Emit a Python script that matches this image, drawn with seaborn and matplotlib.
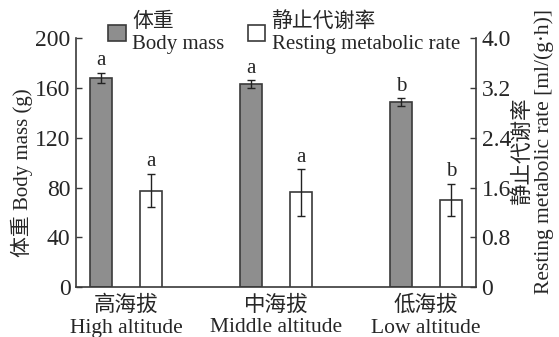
import pandas as pd
import matplotlib
matplotlib.use('Agg')
import matplotlib.pyplot as plt
import seaborn as sns
from matplotlib.patches import Patch

sns.set_style('ticks')
plt.rcParams['font.family'] = ['Liberation Serif', 'Noto Sans CJK SC']
plt.rcParams['font.size'] = 15

groups = ['高海拔\nHigh altitude', '中海拔\nMiddle altitude', '低海拔\nLow altitude']
body_mass = [168, 163, 148.5]
body_mass_err = [4, 3, 3]
body_mass_letters = ['a', 'a', 'b']
rmr = [1.55, 1.52, 1.40]
rmr_err = [0.27, 0.37, 0.26]
rmr_letters = ['a', 'a', 'b']
series = ['体重\nBody mass', '静止代谢率\nResting metabolic rate']

df_bm = pd.DataFrame({'group': groups, 'value': body_mass, 'series': series[0]})
df_rmr = pd.DataFrame({'group': groups, 'value': rmr, 'series': series[1]})

edge = '#3a3a3a'
pal = {series[0]: '#8e8e8e', series[1]: 'white'}
fs = 15

fig, ax = plt.subplots(figsize=(5.59, 3.37), dpi=100)
fig.subplots_adjust(left=0.136, right=0.8515, bottom=0.148, top=0.887)
ax2 = ax.twinx()

sns.barplot(data=df_bm, x='group', y='value', hue='series', hue_order=series, order=groups,
            palette=pal, width=0.667, gap=0.56, dodge=True, edgecolor=edge, linewidth=1.2,
            errorbar=None, legend=False, ax=ax)
sns.barplot(data=df_rmr, x='group', y='value', hue='series', hue_order=series, order=groups,
            palette=pal, width=0.667, gap=0.56, dodge=True, edgecolor=edge, linewidth=1.2,
            errorbar=None, legend=False, ax=ax2)

for a, vals, errs, letters, top in [(ax, body_mass, body_mass_err, body_mass_letters, 200),
                                    (ax2, rmr, rmr_err, rmr_letters, 4.0)]:
    xs = sorted(p.get_x() + p.get_width() / 2 for p in a.patches if p.get_height() > 0)
    a.errorbar(xs, vals, yerr=errs, fmt='none', ecolor='#222222', elinewidth=1, capsize=3, capthick=1)
    for x, v, e, t in zip(xs, vals, errs, letters):
        a.text(x, v + e + 0.01 * top, t, ha='center', va='bottom', fontsize=fs)

ax.set_xlim(-0.333, 2.333)
ax.set_ylim(0, 200)
ax.set_yticks([0, 40, 80, 120, 160, 200])
ax2.set_ylim(0, 4.0)
ax2.set_yticks([0, 0.8, 1.6, 2.4, 3.2, 4.0])
ax2.set_yticklabels(['0', '0.8', '1.6', '2.4', '3.2', '4.0'])

ax.set_xlabel('')
ax.set_ylabel('体重 Body mass (g)', fontsize=fs)
ax.yaxis.set_label_coords(-0.108, 0.46)
ax2.set_ylabel('静止代谢率\nResting metabolic rate [ml/(g·h)]', fontsize=15.5, linespacing=1.1)
ax2.yaxis.set_label_coords(1.092, 0.545)

for a in (ax, ax2):
    a.spines['top'].set_visible(False)
    for s in a.spines.values():
        s.set_color(edge)
        s.set_linewidth(1.2)
    a.tick_params(axis='y', direction='in', length=4, width=1, color=edge, labelsize=17, pad=4)
ax.tick_params(axis='x', length=0, labelsize=15.5, pad=6)
ax2.spines['left'].set_visible(False)
ax2.spines['bottom'].set_visible(False)
ax.spines['right'].set_visible(False)

handles = [Patch(facecolor=pal[s], edgecolor=edge, linewidth=1.2) for s in series]
fig.legend(handles, series, loc='upper left', bbox_to_anchor=(0.1717, 1.0), ncol=2,
           frameon=False, fontsize=fs, handlelength=0.85, handleheight=0.85,
           handletextpad=0.3, columnspacing=1.1, labelspacing=0.1, borderaxespad=0.2)

fig.savefig('out.png', dpi=100)
